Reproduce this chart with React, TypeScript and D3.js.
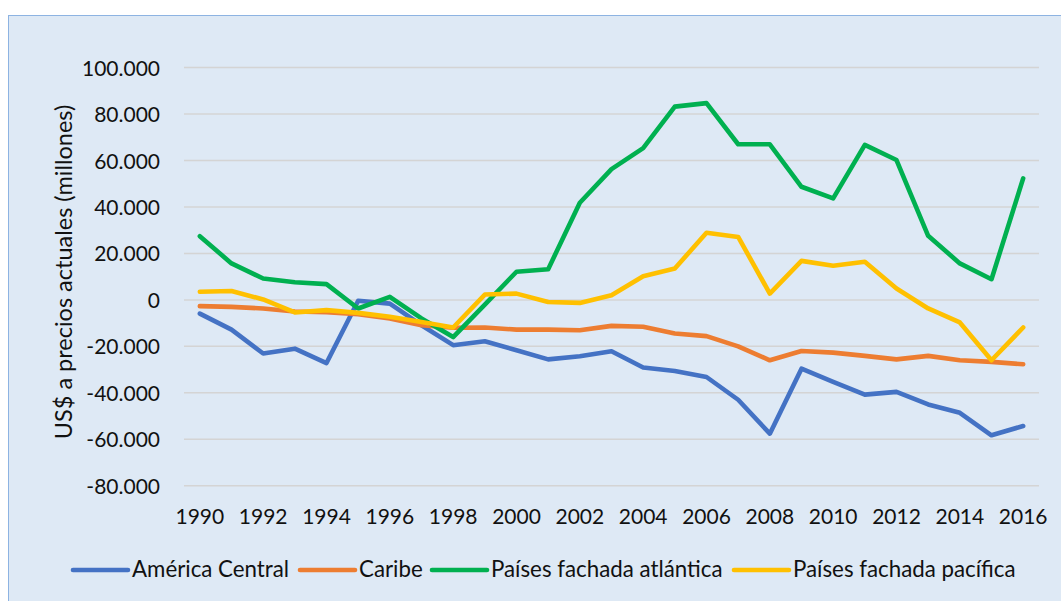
import React from "react";
import * as d3 from "d3";

const years: number[] = d3.range(1990, 2017);
const tickYears: number[] = d3.range(1990, 2017, 2);
const yTicks: number[] = [-80000, -60000, -40000, -20000, 0, 20000, 40000, 60000, 80000, 100000];

const americaCentral: number[] = [
  -5900, -12800, -23100, -21000, -27200, -400, -1600, -10900, -19500, -17800,
  -21700, -25600, -24300, -22100, -29100, -30600, -33200, -43000, -57600, -29600,
  -35300, -40800, -39600, -45000, -48600, -58300, -54300,
];
const caribe: number[] = [
  -2700, -3000, -3700, -5000, -5300, -6200, -8000, -10900, -12000, -11900,
  -12800, -12800, -13100, -11200, -11600, -14500, -15600, -20000, -26000, -22000,
  -22700, -24100, -25600, -24100, -26000, -26700, -27700,
];
const atlantica: number[] = [
  27400, 15700, 9200, 7600, 6800, -3700, 1300, -8000, -16000, -2000,
  12100, 13200, 41800, 56300, 65300, 83200, 84700, 67000, 67000, 48700,
  43700, 66700, 60200, 27600, 15700, 8900, 52300,
];
const pacifica: number[] = [
  3500, 3800, 200, -5400, -4400, -5600, -7300, -9500, -11900, 2300,
  2700, -900, -1300, 2000, 10200, 13500, 28900, 27100, 2700, 16800,
  14700, 16400, 4900, -3700, -9700, -26000, -11900,
];

const seriesNames: string[] = ["América Central", "Caribe", "Países fachada atlántica", "Países fachada pacífica"];
const seriesColors: string[] = ["#4472c4", "#ed7d31", "#00b050", "#ffc000"];
const seriesValues: number[][] = [americaCentral, caribe, atlantica, pacifica];
const legendX: number[] = [73, 300, 432, 734];

const W = 1061;
const H = 601;
const plotLeft = 184;
const plotRight = 1039;
const plotTop = 67.6;
const plotBottom = 485.7;
const FONT = "Lato, 'Open Sans', sans-serif";

const fmt = (v: number) => {
  if (v === 0) return "0";
  const sign = v < 0 ? "-" : "";
  const a = Math.abs(v);
  const s = String(a).replace(/\B(?=(\d{3})+(?!\d))/g, ".");
  return sign + s;
};

export default function App() {
  const x = d3
    .scaleBand<number>()
    .domain(years)
    .range([plotLeft, plotRight]);
  const xc = (yr: number) => (x(yr) as number) + x.bandwidth() / 2;
  const y = d3.scaleLinear().domain([-80000, 100000]).range([plotBottom, plotTop]);

  const line = d3
    .line<number>()
    .x((_, i) => xc(years[i]))
    .y((v) => y(v));

  return (
    <svg
      width={W}
      height={H}
      style={{ position: "absolute", left: 0, top: 0, display: "block" }}
      fontFamily={FONT}
    >
      <rect x={0} y={0} width={W} height={H} fill="#ffffff" />
      <rect x={8.5} y={15.5} width={W + 10} height={H + 10} fill="#dee9f5" stroke="#8db3e2" strokeWidth={1} />

      {yTicks.map((t) => (
        <g key={t}>
          <line x1={plotLeft} x2={plotRight} y1={y(t)} y2={y(t)} stroke="#d4d4d4" strokeWidth={1.5} />
          <text x={160} y={y(t) + 8} textAnchor="end" fontSize={21} fill="#111">
            {fmt(t)}
          </text>
        </g>
      ))}

      {tickYears.map((yr) => (
        <text key={yr} x={xc(yr)} y={524} textAnchor="middle" fontSize={21} fill="#111">
          {yr}
        </text>
      ))}

      <text
        transform={`translate(72,272) rotate(-90)`}
        textAnchor="middle"
        fontSize={23.5}
        fill="#111"
      >
        US$ a precios actuales (millones)
      </text>

      {seriesValues.map((vals, i) => (
        <path
          key={seriesNames[i]}
          d={line(vals) as string}
          fill="none"
          stroke={seriesColors[i]}
          strokeWidth={4.6}
          strokeLinejoin="round"
          strokeLinecap="round"
        />
      ))}

      {seriesNames.map((name, i) => (
        <g key={name}>
          <line
            x1={legendX[i]}
            x2={legendX[i] + 55}
            y1={570}
            y2={570}
            stroke={seriesColors[i]}
            strokeWidth={4.6}
            strokeLinecap="round"
          />
          <text x={legendX[i] + 59} y={577} fontSize={22.3} fill="#111">
            {name}
          </text>
        </g>
      ))}
    </svg>
  );
}
